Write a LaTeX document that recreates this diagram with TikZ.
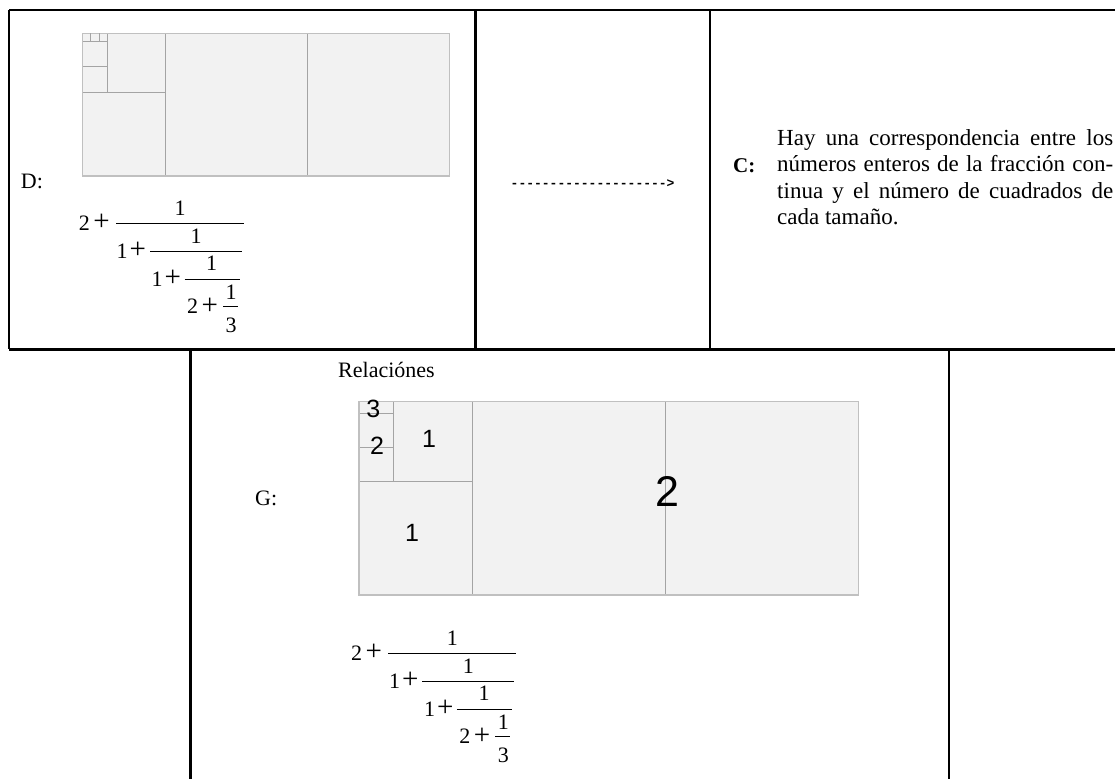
\documentclass[tikz,border=0pt]{standalone}
\usepackage{fontspec}
\setmainfont{Liberation Serif}
\setmonofont{Liberation Mono}
\newfontfamily\digfont{Liberation Sans}
\definecolor{tilebg}{HTML}{F2F2F2}
\definecolor{tileln}{HTML}{A4A4A4}
\definecolor{tilebd}{HTML}{C0C0C0}
\newcommand{\bplus}{\raisebox{-0.6pt}{\fontsize{29}{29}\selectfont +}}
\begin{document}
\begin{tikzpicture}[x=1pt,y=-1pt,
  tableline/.style={line width=2.6pt, black},
  tileline/.style={draw=tileln, line width=0.9pt},
  tileborder/.style={draw=tilebd, line width=1.2pt},
  serif22/.style={font=\fontsize{22}{26.5}\selectfont, inner sep=0pt},
  serif23/.style={font=\fontsize{23}{26.5}\selectfont, inner sep=0pt},
  fracnum/.style={font=\fontsize{22}{22}\selectfont, inner sep=0pt},
  bigbar/.style={line width=1.6pt},
  smallbar/.style={line width=0.9pt},
  tilelabel/.style={font=\digfont\fontsize{25}{25}\selectfont, inner sep=0pt},
  biglabel/.style={font=\digfont\fontsize{43}{43}\selectfont, inner sep=0pt},
  contfrac/.pic={
    \draw[bigbar] (0,0) -- (127.7,0);
    \node[fracnum, anchor=base west] (-t1) at (-37.3,6.7) {2\hspace{3.5pt}\bplus};
    \node[fracnum, anchor=base] (-n1) at (64,-8.3) {1};
    \node[fracnum, anchor=base west] (-t2) at (0.5,34.8) {1\hspace{2pt}\bplus};
    \draw[smallbar] (34,28) -- (125.7,28);
    \node[fracnum, anchor=base] (-n2) at (80,19.8) {1};
    \node[fracnum, anchor=base west] (-t3) at (35.5,63) {1\hspace{2pt}\bplus};
    \draw[smallbar] (68.5,55.9) -- (123.5,55.9);
    \node[fracnum, anchor=base] (-n3) at (95.7,47.4) {1};
    \node[fracnum, anchor=base west] (-t4) at (70.8,90.2) {2\hspace{3.5pt}\bplus};
    \draw[smallbar] (107,83.5) -- (121.7,83.5);
    \node[fracnum, anchor=base] (-n4) at (115,76.2) {1};
    \node[fracnum, anchor=base] (-d4) at (115,109.2) {3};
  },
  tiling/.pic={
    \fill[tilebg] (0,0) rectangle (44,17);
    \draw[tileline] (10,0) -- (10,17) (27,0) -- (27,17) (0,7) -- (10,7)
      (3,0) -- (3,7) (0,1) -- (3,1) (0,4) -- (3,4);
    \draw[tileborder] (0,0) rectangle (44,17);
    \coordinate (-o) at (0,0);
  }
]
\useasboundingbox (0,0) rectangle (1115,779);

% table borders
\draw[tableline] (9,10) -- (1115,10);
\draw[tableline] (9,349.3) -- (1115,349.3);
\draw[tableline] (9,10) -- (9,349.3);
\draw[tableline] (475.7,10) -- (475.7,349.3);
\draw[tableline] (710,10) -- (710,349.3);
\draw[tableline] (190.7,349.3) -- (190.7,779);
\draw[tableline] (949,349.3) -- (949,779);

% D cell
\begin{scope}[shift={(82.3,33.3)}, x=8.34pt, y=-8.39pt]
  \pic (td) at (0,0) {tiling};
  \draw[tileline] (1,0) -- (1,1) (2,0) -- (2,1);
\end{scope}
\node[serif22, anchor=base west] (dlab) at (20.7,188.3) {D:};
\pic (fd) at (116,223.3) {contfrac};

% arrow cell
\node[font=\ttfamily\bfseries\fontsize{13}{13}\selectfont, inner sep=0pt, anchor=base west] (arrow) at (510.5,187) {-------------------->};

% C cell
\node[font=\bfseries\fontsize{21}{21}\selectfont, inner sep=0pt, anchor=base west] (clab) at (733,172) {C:};
\node[serif23, anchor=base west] (ct1) at (777,145) {\makebox[336pt][s]{Hay una correspondencia entre los}};
\node[serif23, anchor=base west] (ct2) at (777,171.7) {\makebox[336pt][s]{números enteros de la fracción con-}};
\node[serif23, anchor=base west] (ct3) at (777,198.3) {\makebox[336pt][s]{tinua y el número de cuadrados de}};
\node[serif23, anchor=base west] (ct4) at (777,224.3) {cada tamaño.};

% G cell
\node[serif22, anchor=base west] (rel) at (338,377.3) {Relaciónes};
\node[serif22, anchor=base west] (glab) at (255,505) {G:};
\begin{scope}[shift={(359,401.7)}, x=11.35pt, y=-11.37pt]
  \pic (tg) at (0,0) {tiling};
\end{scope}
\node[tilelabel] (g3) at (373.3,409) {3};
\node[tilelabel] (g2s) at (377,445.3) {2};
\node[tilelabel] (g1a) at (429,439) {1};
\node[tilelabel] (g1b) at (412,533.3) {1};
\node[biglabel] (g2b) at (667,491.7) {2};
\pic (fg) at (388.3,653.3) {contfrac};
\end{tikzpicture}
\end{document}
